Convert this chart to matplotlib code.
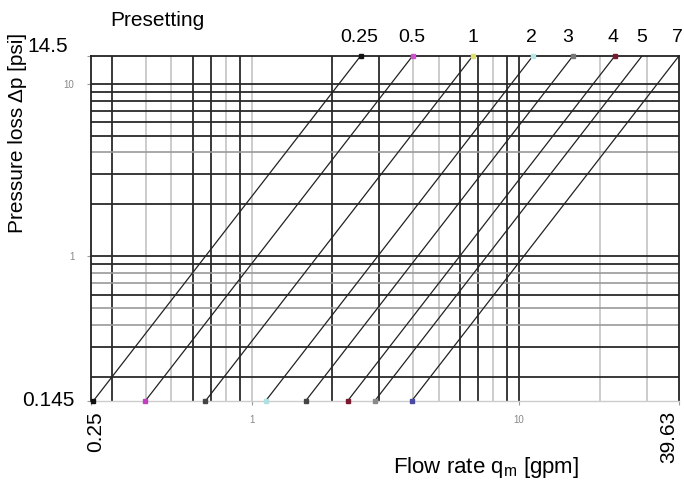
import matplotlib
matplotlib.use("Agg")
import matplotlib.pyplot as plt
from matplotlib.transforms import blended_transform_factory, ScaledTranslation

plt.rcParams['font.family'] = ['Liberation Sans', 'DejaVu Sans']

# Data
presettings = ["0.25", "0.5", "1", "2", "3", "4", "5", "7"]
q_low = [0.255, 0.399, 0.670, 1.125, 1.588, 2.28, 2.88, 3.96]      # gpm at 0.145 psi
q_high = [2.55, 3.99, 6.70, 11.25, 15.88, 22.8, 28.8, 39.6]         # gpm at 14.5 psi
dp_low = 0.145
dp_high = 14.5
bottom_marker_colors = ["#111111", "#c040c0", "#444444", "#b0e0e0", "#444444", "#7a1830", "#8a8a8a", "#4a4aa0"]
top_marker_colors = ["#111111", "#d050d0", "#e0e070", "#b8e6e6", "#777777", "#7a1830", None, None]

x_min, x_max = 0.25, 39.63
y_min, y_max = 0.145, 14.5

vgrid_dark = [0.3, 0.6, 0.7, 0.9, 2, 3, 6, 7, 9, 10]
vgrid_light = [0.4, 0.5, 0.8, 1, 4, 5, 8, 20, 30]
hgrid_dark = [0.2, 0.3, 0.6, 0.9, 1, 2, 3, 5, 6, 7, 8, 9, 10]
hgrid_light = [0.4, 0.5, 0.7, 0.8, 4]

fig = plt.figure(figsize=(6.84, 4.83), dpi=100)
W, H = 684, 483
ax = fig.add_axes([91 / W, 1 - 401 / H, (679 - 91) / W, (401 - 56) / H])
ax.set_xscale('log')
ax.set_yscale('log')
ax.set_xlim(x_min, x_max)
ax.set_ylim(y_min, y_max)

for v in vgrid_light:
    ax.axvline(v, color="#c8c8c8", lw=1.3, zorder=1)
for v in vgrid_dark:
    ax.axvline(v, color="#2a2a2a", lw=1.3, zorder=1)
for h in hgrid_light:
    ax.axhline(h, color="#9a9a9a", lw=1.2, zorder=1)
for h in hgrid_dark:
    ax.axhline(h, color="#2a2a2a", lw=1.3, zorder=1)

for lo, hi, cb, ct in zip(q_low, q_high, bottom_marker_colors, top_marker_colors):
    ax.plot([lo, hi], [dp_low, dp_high], color="#222222", lw=0.9, zorder=3)
    ax.plot([lo], [dp_low], ls='none', marker='s', ms=3.5,
            mfc=cb, mec=cb, zorder=4, clip_on=False)
    if ct is not None:
        ax.plot([hi], [dp_high], ls='none', marker='s', ms=3.5,
                mfc=ct, mec=ct, zorder=4, clip_on=False)

for side in ['top', 'left', 'right']:
    ax.spines[side].set_color('#222222')
    ax.spines[side].set_linewidth(1.3)
ax.spines['bottom'].set_color('#cccccc')
ax.spines['bottom'].set_linewidth(1.0)

ax.minorticks_off()
ax.set_xticks([x_min, 1, 10, x_max])
ax.set_xticklabels(["0.25", "1", "10", "39.63"])
ax.set_yticks([y_min, 1, 10, y_max])
ax.set_yticklabels(["0.145", "1", "10", "14.5"])
ax.tick_params(axis='x', length=3, color='#999999', width=0.8, pad=7)
ax.tick_params(axis='y', length=3, color='#999999', width=0.8, pad=9)

xl = ax.get_xticklabels()
for i, t in enumerate(xl):
    if i in (0, 3):
        t.set_rotation(90)
        t.set_fontsize(15)
        t.set_color('black')
        t.set_va('top')
    else:
        t.set_fontsize(7)
        t.set_color('#888888')
xl[0].set_transform(xl[0].get_transform() + ScaledTranslation(5 / 100, 4 / 100, fig.dpi_scale_trans))
xl[3].set_transform(xl[3].get_transform() + ScaledTranslation(-10 / 100, 4 / 100, fig.dpi_scale_trans))

yl = ax.get_yticklabels()
for i, t in enumerate(yl):
    if i in (0, 3):
        t.set_fontsize(15)
        t.set_color('black')
    else:
        t.set_fontsize(7)
        t.set_color('#888888')
yl[3].set_va('bottom')
yl[0].set_va('center')
yl[0].set_transform(yl[0].get_transform() + ScaledTranslation(0, 0, fig.dpi_scale_trans))
yl[3].set_transform(yl[3].get_transform() + ScaledTranslation(-6 / 100, 0, fig.dpi_scale_trans))

trans = blended_transform_factory(ax.transData, ax.transAxes)
label_dx = [0.985, 0.99, 1.0, 0.985, 0.96, 0.985, 1.0, 0.985]
for p, hi, d in zip(presettings, q_high, label_dx):
    ax.text(hi * d, 1.03, p, transform=trans, ha='center', va='bottom', fontsize=14)

fig.text(110 / W, 1 - 20 / H, "Presetting", fontsize=15, ha='left', va='center')
fig.text(18 / W, 1 - 133 / H, "Pressure loss \u0394p [psi]", fontsize=15,
         rotation=90, ha='center', va='center')
fig.text(486 / W, 1 - 467 / H, "Flow rate q$_\\mathregular{m}$ [gpm]", fontsize=16,
         ha='center', va='center')

fig.savefig("out.png", dpi=100)
